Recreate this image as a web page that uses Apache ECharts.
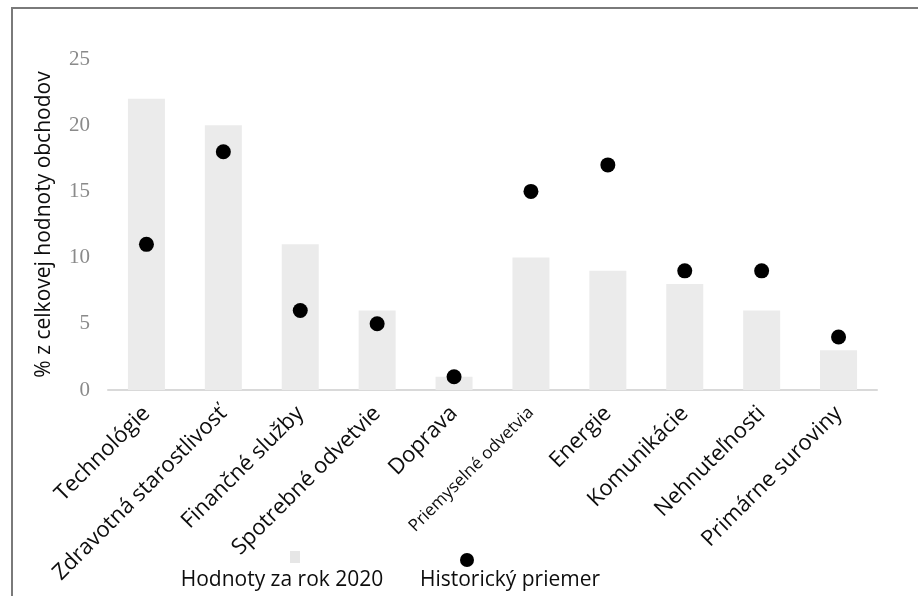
<!DOCTYPE html>
<html>
<head>
<meta charset="utf-8">
<script src="https://cdn.jsdelivr.net/npm/echarts@6/dist/echarts.min.js"></script>
<style>
  html, body { margin: 0; padding: 0; background: #fff; }
  #chart { width: 918px; height: 596px; }
</style>
</head>
<body>
<div id="chart"></div>
<script>
// Sectors on the x axis
const categories = [
  'Technológie', 'Zdravotná starostlivosť', 'Finančné služby', 'Spotrebné odvetvie',
  'Doprava', 'Priemyselné odvetvia', 'Energie', 'Komunikácie', 'Nehnuteľnosti', 'Primárne suroviny'
];
// Share of total deal value in 2020 (%)
const values2020 = [22, 20, 11, 6, 1, 10, 9, 8, 6, 3];
// Historical average (%)
const historicalAvg = [11, 18, 6, 5, 1, 15, 17, 9, 9, 4];

const seriesNames = ['Hodnoty za rok 2020', 'Historický priemer'];
const yAxisTitle = '% z celkovej hodnoty obchodov';

const labelFont = '"Open Sans", "Noto Sans", sans-serif';

const chart = echarts.init(document.getElementById('chart'), null, { renderer: 'canvas' });

const categoryData = categories.map(c => (
  c === 'Priemyselné odvetvia'
    ? { value: c, textStyle: { fontSize: 17 } }
    : c
));

chart.setOption({
  animation: false,
  backgroundColor: '#ffffff',
  grid: { left: 108, right: 41, top: 59, bottom: 206, containLabel: false },
  xAxis: {
    type: 'category',
    data: categoryData,
    axisLine: { show: true, lineStyle: { color: '#d9d9d9', width: 2 } },
    axisTick: { show: false },
    axisLabel: {
      rotate: 45,
      interval: 0,
      margin: 20,
      color: '#0d0d0d',
      fontSize: 22,
      fontFamily: labelFont
    }
  },
  yAxis: {
    type: 'value',
    min: 0,
    max: 25,
    interval: 5,
    name: yAxisTitle,
    nameLocation: 'middle',
    nameGap: 53,
    nameTextStyle: { color: '#0d0d0d', fontSize: 21, fontFamily: labelFont },
    axisLine: { show: false },
    axisTick: { show: false },
    splitLine: { show: false },
    axisLabel: {
      margin: 18,
      color: '#8a8a8a',
      fontSize: 21,
      fontFamily: '"Liberation Serif", "DejaVu Serif", serif'
    }
  },
  series: [
    {
      name: seriesNames[0],
      type: 'bar',
      data: values2020,
      barWidth: 37,
      itemStyle: { color: '#ebebeb' },
      z: 2
    },
    {
      name: seriesNames[1],
      type: 'scatter',
      data: historicalAvg,
      symbol: 'circle',
      symbolSize: 15,
      itemStyle: { color: '#000000', opacity: 1 },
      z: 3
    }
  ],
  graphic: [
    // chart frame
    {
      type: 'rect',
      shape: { x: 12, y: 8, width: 920, height: 600 },
      style: { fill: 'none', stroke: '#7a7a7a', lineWidth: 2 },
      silent: true
    },
    // legend keys with the caption beneath each marker
    {
      type: 'rect',
      shape: { x: 290, y: 551, width: 10, height: 12 },
      style: { fill: '#e6e6e6' }
    },
    {
      type: 'circle',
      shape: { cx: 467, cy: 560, r: 7 },
      style: { fill: '#000000' }
    },
    {
      type: 'text',
      x: 282, y: 580,
      style: {
        text: seriesNames[0],
        fill: '#0d0d0d', fontSize: 21, fontFamily: labelFont,
        align: 'center', verticalAlign: 'middle'
      }
    },
    {
      type: 'text',
      x: 510, y: 580,
      style: {
        text: seriesNames[1],
        fill: '#0d0d0d', fontSize: 21, fontFamily: labelFont,
        align: 'center', verticalAlign: 'middle'
      }
    }
  ]
});
</script>
</body>
</html>
